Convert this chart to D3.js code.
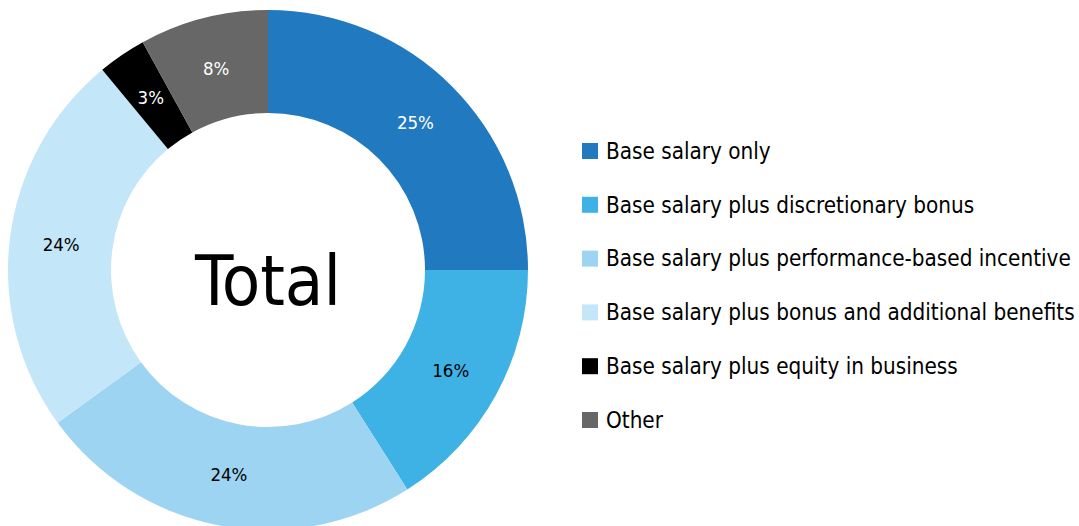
<!DOCTYPE html>
<html>
<head>
<meta charset="utf-8">
<script src="https://cdn.jsdelivr.net/npm/d3@7"></script>
<style>
  body { margin: 0; background: #fff; }
  text { font-family: "DejaVu Sans Condensed", "DejaVu Sans", sans-serif; }
</style>
</head>
<body>
<div id="chart"></div>
<script>
// slice data, clockwise from 12 o'clock
const categories = [
    "Base salary only",
    "Base salary plus discretionary bonus",
    "Base salary plus performance-based incentive",
    "Base salary plus bonus and additional benefits",
    "Base salary plus equity in business",
    "Other"
];
const values = [25, 16, 24, 24, 3, 8];
const colors = ["#2179c0", "#3fb2e5", "#9dd4f2", "#c3e6f8", "#000000", "#666766"];
const labelColors = ["#fff", "#000", "#000", "#000", "#fff", "#fff"];
const centerLabel = "Total";

const width = 1079, height = 526;
const cx = 268, cy = 270;
const outerR = 260, innerR = 157;

const svg = d3.select('#chart').append('svg')
    .attr('width', width).attr('height', height);

const data = categories.map((c, i) => ({ name: c, value: values[i], color: colors[i], lc: labelColors[i] }));

const pie = d3.pie().value(d => d.value).sort(null);
const arc = d3.arc().innerRadius(innerR).outerRadius(outerR);

const g = svg.append('g').attr('transform', `translate(${cx},${cy})`);

const slices = g.selectAll('.slice')
    .data(pie(data))
    .enter()
    .append('g')
    .attr('class', 'slice');

slices.append('path')
    .attr('d', arc)
    .attr('fill', d => d.data.color);

slices.append('text')
    .attr('transform', d => `translate(${arc.centroid(d)})`)
    .attr('text-anchor', 'middle')
    .attr('dy', '0.36em')
    .attr('font-size', 18.5)
    .attr('fill', d => d.data.lc)
    .text(d => d.data.value + '%');

g.append('text')
    .attr('text-anchor', 'middle')
    .attr('y', 35)
    .attr('font-size', 70)
    .attr('fill', '#000')
    .text(centerLabel);

// legend
const legend = svg.append('g').attr('transform', 'translate(582,151)');
const rows = legend.selectAll('.row')
    .data(data)
    .enter()
    .append('g')
    .attr('class', 'row')
    .attr('transform', (d, i) => `translate(0,${i * 53.8})`);

rows.append('rect')
    .attr('x', 0).attr('y', -8)
    .attr('width', 16).attr('height', 16)
    .attr('fill', d => d.color);

rows.append('text')
    .attr('x', 24)
    .attr('dy', '0.35em')
    .attr('font-size', 22.3)
    .attr('fill', '#000')
    .text(d => d.name);
</script>
</body>
</html>
